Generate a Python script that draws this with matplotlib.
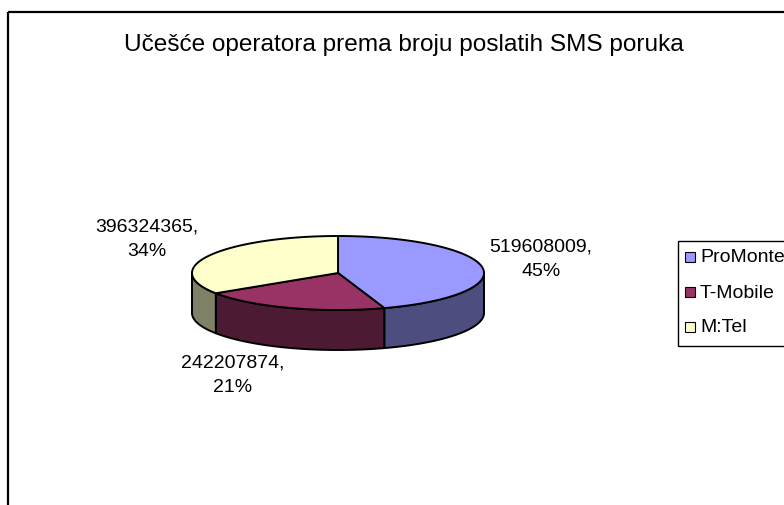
import numpy as np
import matplotlib
matplotlib.use("Agg")
import matplotlib.pyplot as plt
from matplotlib.patches import Polygon, Rectangle

plt.rcParams['font.family'] = ['Liberation Sans', 'DejaVu Sans']

# ---- data ----
title = "Učešće operatora prema broju poslatih SMS poruka"
operators = ["ProMonte", "T-Mobile", "M:Tel"]
sms_counts = [519608009, 242207874, 396324365]
top_colors = ["#9999FF", "#993366", "#FFFFCC"]
side_colors = ["#4D4D80", "#4D1A33", "#808066"]

# ---- layout (pixel space) ----
W, H = 784, 506
fig = plt.figure(figsize=(W / 100, H / 100), dpi=100)
ax = fig.add_axes([0, 0, 1, 1])
ax.set_xlim(0, W)
ax.set_ylim(H, 0)
ax.axis('off')

# chart-area border
ax.add_patch(Rectangle((8, 13), W + 20, H + 20, fill=False, edgecolor='black', lw=1.6))

cx, cy, a, b, depth = 338, 274, 146, 37, 40
lw = 1.4

total = float(sum(sms_counts))
fracs = [v / total for v in sms_counts]
bounds = np.concatenate([[0], np.cumsum(fracs) * 360])


def pt(theta_deg, dy=0.0):
    t = np.radians(theta_deg)
    return cx + a * np.sin(t), cy - b * np.cos(t) + dy


# sides (front half: theta in 90..270)
for i in range(len(sms_counts)):
    t0, t1 = bounds[i], bounds[i + 1]
    s0, s1 = max(t0, 90), min(t1, 270)
    if s1 <= s0:
        continue
    th = np.linspace(s0, s1, 100)
    xs, ys = pt(th)
    top = np.column_stack([xs, ys])
    bot = np.column_stack([xs, ys + depth])[::-1]
    ax.add_patch(Polygon(np.vstack([top, bot]), closed=True,
                         facecolor=side_colors[i], edgecolor='black', lw=lw, joinstyle='round'))

# top faces
for i in range(len(sms_counts)):
    t0, t1 = bounds[i], bounds[i + 1]
    th = np.linspace(t0, t1, 200)
    xs, ys = pt(th)
    poly = np.vstack([[cx, cy], np.column_stack([xs, ys])])
    ax.add_patch(Polygon(poly, closed=True, facecolor=top_colors[i],
                         edgecolor='black', lw=lw, joinstyle='round'))

# data labels
label_pos = [(541, 259), (233, 375), (147, 239)]
for i, v in enumerate(sms_counts):
    pct = int(round(fracs[i] * 100))
    ax.text(label_pos[i][0], label_pos[i][1], f"{v},\n{pct}%", ha='center', va='center',
            fontsize=14, linespacing=1.55, color='black')

# title
ax.text(404, 45, title, ha='center', va='center', fontsize=17.6, color='black')

# legend (drawn in pixel space)
lx, ly, lw_box, lh_box = 678, 242, 130, 105
ax.add_patch(Rectangle((lx, ly), lw_box, lh_box, facecolor='white', edgecolor='black', lw=1.0))
row_y = [258, 293, 328]
for i, name in enumerate(operators):
    ax.add_patch(Rectangle((685, row_y[i] - 5), 10, 10, facecolor=top_colors[i],
                           edgecolor='black', lw=0.8))
    ax.text(700, row_y[i], name, ha='left', va='center', fontsize=14, color='black')

fig.savefig("out.png", dpi=100)
